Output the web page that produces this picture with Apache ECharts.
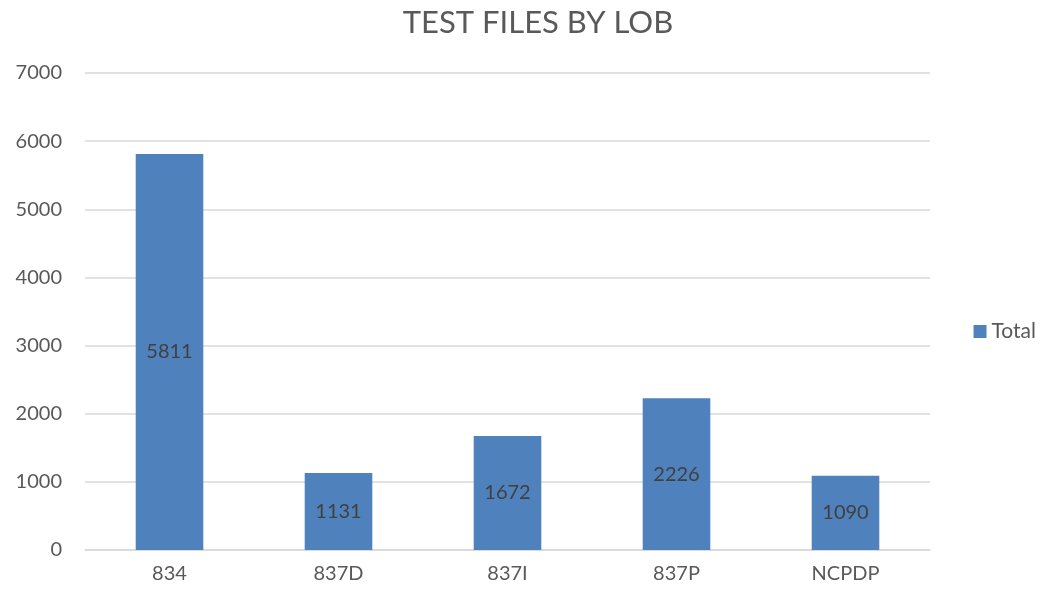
<!DOCTYPE html>
<html><head><meta charset="utf-8">
<script src="https://cdn.jsdelivr.net/npm/echarts@6/dist/echarts.min.js"></script>
<style>html,body{margin:0;padding:0;background:#fff}#c{width:1044px;height:592px}</style>
</head><body><div id="c"></div>
<script>
const categories = ["834", "837D", "837I", "837P", "NCPDP"];
const totals = [5811, 1131, 1672, 2226, 1090];
const yTicks = [0, 1000, 2000, 3000, 4000, 5000, 6000, 7000];
const FONT = "Lato";
const chart = echarts.init(document.getElementById('c'));
chart.setOption({
  animation: false,
  textStyle: { fontFamily: FONT },
  title: { text: "TEST FILES BY LOB", left: 533, top: 2, textAlign: 'center',
    textStyle: { fontFamily: FONT, fontSize: 31, fontWeight: 'normal', color: '#595959' } },
  legend: { data: ["Total"], right: 3, top: 316, orient: 'vertical', icon: 'rect', itemWidth: 13, itemHeight: 13, itemGap: 5,
    textStyle: { fontFamily: FONT, fontSize: 21, color: '#595959' } },
  grid: { left: 85, right: 114, top: 73, bottom: 42, containLabel: false },
  xAxis: { type: 'category', data: categories,
    axisLine: { lineStyle: { color: '#d9d9d9', width: 1.5 } }, axisTick: { show: false },
    axisLabel: { fontFamily: FONT, fontSize: 20, color: '#595959', margin: 14 } },
  yAxis: { type: 'value', min: yTicks[0], max: yTicks[yTicks.length-1], interval: 1000,
    axisLine: { show: false }, axisTick: { show: false },
    splitLine: { lineStyle: { color: '#d9d9d9', width: 1.5 } },
    axisLabel: { fontFamily: FONT, fontSize: 20, color: '#595959', margin: 23, formatter: v => String(v) } },
  series: [{ name: "Total", type: 'bar', data: totals, barWidth: '40%',
    itemStyle: { color: '#4f81bd' },
    label: { show: true, position: 'inside', fontFamily: FONT, fontSize: 20, color: '#404040' } }]
});
</script></body></html>
